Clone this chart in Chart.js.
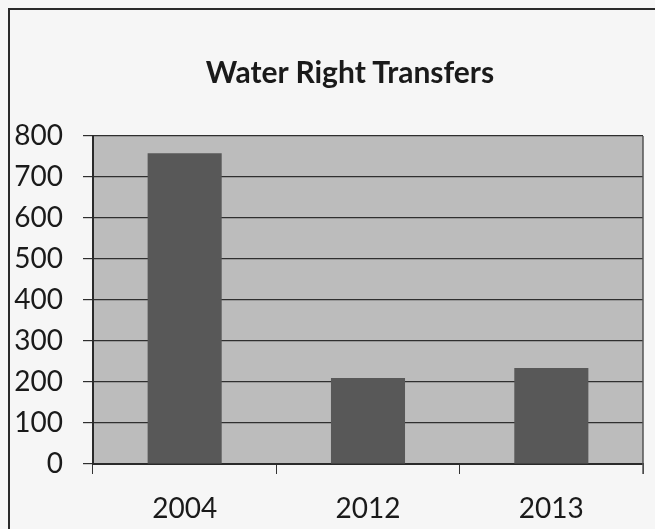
<!DOCTYPE html>
<html>
<head>
<meta charset="utf-8">
<script src="https://cdn.jsdelivr.net/npm/chart.js@4"></script>
<style>
  html, body { margin: 0; padding: 0; background: #f6f6f6; }
  #wrap { position: relative; width: 655px; height: 529px; overflow: hidden; }
  #title { position: absolute; left: 0; width: 700px; top: 53px; text-align: center;
           font-family: Lato, "Open Sans", sans-serif; font-weight: bold; font-size: 30px; color: #1a1a1a; line-height: 36px; }
  canvas { position: absolute; left: 0; top: 0; }
</style>
</head>
<body>
<div id="wrap">
  <canvas id="c" width="655" height="529"></canvas>
  <div id="title">Water Right Transfers</div>
</div>
<script>
const categories = ["2004", "2012", "2013"];
const transfers = [758, 210, 234];
const yTicks = [0, 100, 200, 300, 400, 500, 600, 700, 800];

const frame = {
  id: 'frame',
  beforeDraw(chart) {
    const ctx = chart.ctx, a = chart.chartArea;
    ctx.save();
    ctx.strokeStyle = '#2a2a2a';
    ctx.lineWidth = 2;
    ctx.beginPath();
    ctx.moveTo(9, 529); ctx.lineTo(9, 9); ctx.lineTo(655, 9);
    ctx.stroke();
    ctx.fillStyle = '#bcbcbc';
    ctx.fillRect(a.left, a.top, a.right - a.left, a.bottom - a.top);
    ctx.restore();
  },
  afterDraw(chart) {
    const ctx = chart.ctx, a = chart.chartArea;
    ctx.save();
    ctx.strokeStyle = '#555';
    ctx.lineWidth = 1.5;
    ctx.beginPath();
    ctx.moveTo(a.right, a.top); ctx.lineTo(a.right, a.bottom + 10);
    ctx.stroke();
    ctx.restore();
  }
};

new Chart(document.getElementById('c'), {
  type: 'bar',
  data: {
    labels: categories,
    datasets: [{
      data: transfers,
      backgroundColor: '#585858',
      borderWidth: 0,
      barPercentage: 0.404,
      categoryPercentage: 1.0
    }]
  },
  options: {
    responsive: false,
    animation: false,
    layout: { padding: { left: 0, right: 12, top: 136, bottom: 0 } },
    plugins: { legend: { display: false }, title: { display: false }, tooltip: { enabled: false } },
    scales: {
      x: {
        afterFit(s) { s.height = 65; },
        grid: { offset: true, drawOnChartArea: false, drawTicks: true, tickLength: 10, color: '#333', lineWidth: 1 },
        border: { display: true, color: '#2a2a2a', width: 2 },
        ticks: { color: '#1a1a1a', padding: 18, font: { family: 'Lato, "Open Sans", sans-serif', size: 28 } }
      },
      y: {
        min: 0, max: 800,
        afterFit(s) { s.width = 93; },
        afterBuildTicks(s) { s.ticks = yTicks.map(v => ({ value: v })); },
        grid: { color: '#2f2f2f', lineWidth: 1.2, tickLength: 10 },
        border: { display: true, color: '#2a2a2a', width: 2 },
        ticks: { color: '#1a1a1a', padding: 20, font: { family: 'Lato, "Open Sans", sans-serif', size: 28 } }
      }
    }
  },
  plugins: [frame]
});
</script>
</body>
</html>
